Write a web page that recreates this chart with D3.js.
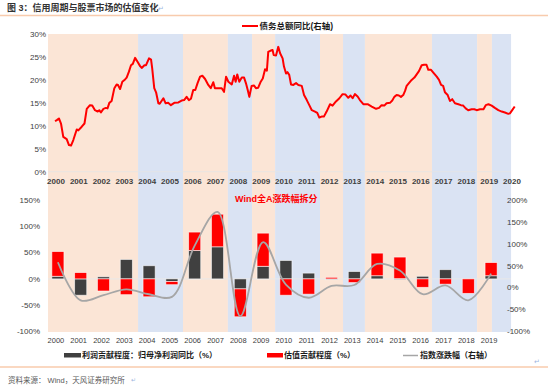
<!DOCTYPE html>
<html><head><meta charset="utf-8">
<script src="https://cdn.jsdelivr.net/npm/d3@7"></script>
<style>
html,body{margin:0;padding:0;background:#fff;}
svg{display:block;font-family:"Liberation Sans","Noto Sans CJK SC",Arial,sans-serif;}
</style></head><body>
<svg id="c" width="550" height="386"></svg>
<script>
// ---------- data ----------
const cycleStarts = [2000.0, 2003.95, 2005.92, 2007.89, 2008.95, 2009.96, 2011.93, 2012.94, 2013.90, 2016.84, 2018.82, 2019.47];
const cycleEnd = 2020.31;
const cycleTypes = ["up","down","up","down","up","down","up","down","up","down","up","down"];

const debtT = [2000.31,2000.40,2000.48,2000.57,2000.67,2000.82,2000.92,2001.01,2001.11,2001.26,2001.33,2001.48,2001.60,2001.70,2001.84,2001.94,
2002.06,2002.18,2002.25,2002.32,2002.43,2002.54,2002.61,2002.69,2002.79,2002.91,2003.01,2003.07,2003.16,2003.26,2003.38,2003.45,2003.55,2003.64,2003.72,2003.82,2003.92,
2004.04,2004.11,2004.23,2004.30,2004.43,2004.52,2004.57,2004.66,2004.74,2004.84,2004.90,2005.06,2005.16,2005.27,2005.39,2005.54,2005.72,2005.86,2005.97,
2006.08,2006.18,2006.27,2006.37,2006.46,2006.56,2006.67,2006.77,2006.89,2007.03,2007.14,2007.25,2007.32,2007.47,2007.62,2007.72,2007.81,2007.91,
2008.06,2008.16,2008.23,2008.30,2008.39,2008.50,2008.60,2008.68,2008.76,2008.83,2008.93,2009.03,2009.12,2009.22,2009.33,2009.42,2009.52,2009.60,2009.66,2009.77,2009.85,2009.90,
2010.00,2010.10,2010.18,2010.29,2010.35,2010.44,2010.50,2010.58,2010.66,2010.76,2010.88,2010.98,2011.13,2011.23,2011.35,2011.46,2011.57,2011.71,2011.81,2011.90,
2012.00,2012.10,2012.22,2012.37,2012.48,2012.63,2012.78,2012.92,2013.05,2013.17,2013.27,2013.36,2013.46,2013.58,2013.68,2013.83,
2014.02,2014.20,2014.39,2014.52,2014.63,2014.75,2014.85,2015.00,2015.10,2015.19,2015.29,2015.39,2015.48,2015.58,2015.66,2015.73,2015.83,2015.95,
2016.07,2016.17,2016.27,2016.39,2016.49,2016.60,2016.68,2016.80,2016.90,2017.05,2017.15,2017.24,2017.33,2017.41,2017.53,2017.63,2017.73,2017.85,
2018.00,2018.11,2018.21,2018.32,2018.43,2018.58,2018.70,2018.80,2018.95,2019.10,2019.20,2019.32,2019.46,2019.60,2019.75,2019.90,2020.04,2020.19,2020.26,2020.36,2020.47];
const debtV = [11.0,11.3,11.6,10.5,7.6,7.1,5.8,5.7,6.9,9.2,9.0,9.8,10.5,13.7,14.5,14.4,
13.4,13.1,13.4,12.9,13.7,13.9,13.8,15.0,15.4,18.2,19.0,18.9,18.0,19.6,20.1,20.5,21.8,23.2,23.5,24.8,24.0,
23.0,22.6,23.2,23.2,24.7,24.4,22.5,18.2,17.3,14.9,14.8,16.0,14.9,15.0,14.5,15.0,15.1,15.5,15.6,
16.3,15.6,15.9,17.8,17.8,19.3,20.7,20.9,20.2,18.9,18.2,19.5,18.2,18.2,18.2,17.4,20.7,19.6,
19.0,20.9,19.6,21.2,19.6,20.5,20.5,19.3,17.8,16.3,18.7,18.8,18.2,18.3,19.6,20.3,22.3,22.0,26.1,26.4,26.5,25.4,
25.3,27.2,25.8,24.7,22.9,21.4,21.7,21.1,19.0,18.9,19.3,18.9,18.7,16.7,15.6,14.5,13.4,13.1,12.8,11.8,
12.0,12.0,13.1,14.7,14.4,15.3,16.0,16.9,16.8,16.1,16.6,16.0,16.9,16.4,15.6,14.7,
14.7,14.2,13.7,13.9,14.5,14.4,14.9,15.0,15.5,16.3,16.7,16.6,16.3,16.7,17.6,18.7,19.3,20.0,
20.5,21.2,21.9,23.2,23.3,23.3,22.2,22.2,21.6,20.7,20.0,18.9,18.7,17.3,16.7,15.4,15.8,14.9,
14.7,14.5,14.4,13.8,13.4,13.6,13.6,13.4,13.6,13.6,14.5,14.7,14.4,13.9,13.4,13.1,12.9,12.6,12.7,13.4,14.2];

const topYTicks = [0,5,10,15,20,25,30];
const topYears = d3.range(2000, 2021);

const years = d3.range(2000, 2020);
const profitContrib = [5,-31,4,37,25,-5,54,61,-19,24,35,11,0,14,6,0.5,5,17.5,0,6];
const valuationContrib = [47,12,-23,-30,-34,-6,35,62,-53,63,-31,-29,3,-7,43,41,-16,-10,-27.5,25];
const indexChange = [58,-29,-17,-4,-15,-21,96,173,-65,104,7,-23,4,6,54,39,-15,5,-29,32];
const leftTicks = [-100,-50,0,50,100,150];
const rightTicks = [-100,-50,0,50,100,150,200];

// ---------- drawing ----------
const svg = d3.select("#c");
const ORANGE = "#fbe5d6", BLUE = "#dae3f3";
const AX = "#404040";

// title
svg.append("text").attr("x",7).attr("y",11).attr("font-size",9).attr("font-weight","bold").attr("fill","#333")
  .text("图 3：信用周期与股票市场的估值变化");
svg.append("text").attr("x",158).attr("y",11).attr("font-size",7).attr("fill","#9db5e0").text("↵");
svg.append("line").attr("x1",0).attr("x2",548).attr("y1",15.5).attr("y2",15.5).attr("stroke","#f8cbad").attr("stroke-width",1.5);

// scales
const x = d3.scaleLinear().domain([2000, 2020.5]).range([48, 515.4]);
const yTop = d3.scaleLinear().domain([0, 30]).range([171.7, 34]);

// bands
const bandTop = 34, bandBot = 332;
const bands = cycleStarts.map((s,i)=>({s, e: i<cycleStarts.length-1 ? cycleStarts[i+1] : cycleEnd, t: cycleTypes[i]}));
svg.append("g").selectAll("rect").data(bands).join("rect")
  .attr("x", d=>x(d.s)).attr("width", d=>x(d.e)-x(d.s))
  .attr("y", bandTop).attr("height", bandBot-bandTop)
  .attr("fill", d=>d.t==="up"?ORANGE:BLUE);

// top axis
const gTopY = svg.append("g");
gTopY.selectAll("text").data(topYTicks).join("text")
  .attr("x",46).attr("y",d=>yTop(d)).attr("dy","0.35em").attr("text-anchor","end")
  .attr("font-size",8).attr("fill",AX).text(d=>d+"%");
svg.append("line").attr("x1",48).attr("x2",511).attr("y1",yTop(0)).attr("y2",yTop(0)).attr("stroke","#e3e3e3").attr("stroke-width",0.8);
svg.append("g").selectAll("text").data(topYears).join("text")
  .attr("x",d=>x(d+0.35)).attr("y",181).attr("dy","0.35em").attr("text-anchor","middle")
  .attr("font-size",8).attr("font-weight","bold").attr("fill",AX).text(d=>d);

// top line
const debt = debtT.map((t,i)=>({t, v: debtV[i]}));
svg.append("path").datum(debt)
  .attr("d", d3.line().x(d=>x(d.t)).y(d=>yTop(d.v)))
  .attr("fill","none").attr("stroke","#ff0000").attr("stroke-width",2).attr("stroke-linejoin","round");

// top legend
svg.append("line").attr("x1",242).attr("x2",258).attr("y1",26).attr("y2",26).attr("stroke","#ff0000").attr("stroke-width",2);
svg.append("text").attr("x",259.5).attr("y",26).attr("dy","0.35em").attr("font-size",8.5).attr("font-weight","bold").attr("fill","#1a1a1a")
  .text("债务总额同比(右轴)");

// bottom chart
const xb = d3.scaleBand().domain(years).range([46.5, 502.5]).paddingInner(0.47).paddingOuter(0.235);
const yL = d3.scaleLinear().domain([-100,150]).range([331.5, 200]);
const yR = d3.scaleLinear().domain([-100,200]).range([331.5, 200]);

svg.append("line").attr("x1",48).attr("x2",511).attr("y1",yL(0)).attr("y2",yL(0)).attr("stroke","#e8e8e8").attr("stroke-width",1);

// stacked bars
const segs = [];
years.forEach((yr,i)=>{
  let pos = 0, neg = 0;
  [[profitContrib[i],"#404040"],[valuationContrib[i],"#ff0000"]].forEach(([v,c])=>{
    if (v >= 0) { segs.push({yr, y0: pos, y1: pos+v, c}); pos += v; }
    else { segs.push({yr, y0: neg+v, y1: neg, c}); neg += v; }
  });
});
svg.append("g").selectAll("rect").data(segs).join("rect")
  .attr("x", d=>xb(d.yr)).attr("width", xb.bandwidth())
  .attr("y", d=>yL(d.y1)).attr("height", d=>Math.max(0.8, yL(d.y0)-yL(d.y1)))
  .attr("fill", d=>d.c).attr("stroke","rgba(255,255,255,0.7)").attr("stroke-width",0.8);

// index line
const idx = years.map((yr,i)=>({yr, v: indexChange[i]}));
svg.append("path").datum(idx)
  .attr("d", d3.line().x(d=>xb(d.yr)+xb.bandwidth()/2).y(d=>yR(d.v)).curve(d3.curveCatmullRom.alpha(0.5)))
  .attr("fill","none").attr("stroke","#a6a6a6").attr("stroke-width",1.8);

// bottom axes
svg.append("g").selectAll("text").data(leftTicks).join("text")
  .attr("x",40).attr("y",d=>yL(d)).attr("dy","0.35em").attr("text-anchor","end")
  .attr("font-size",8).attr("fill",AX).text(d=>d+"%");
svg.append("g").selectAll("text").data(rightTicks).join("text")
  .attr("x",507).attr("y",d=>yR(d)).attr("dy","0.35em").attr("text-anchor","start")
  .attr("font-size",8).attr("fill",AX).text(d=>d+"%");
svg.append("g").selectAll("text").data(years).join("text")
  .attr("x",d=>xb(d)+xb.bandwidth()/2-2).attr("y",340).attr("dy","0.35em").attr("text-anchor","middle")
  .attr("font-size",7.5).attr("fill",AX).text(d=>d);

// bottom title
svg.append("text").attr("x",235).attr("y",199).attr("dy","0.35em").attr("font-size",9).attr("font-weight","bold").attr("fill","#ff0000")
  .text("Wind全A涨跌幅拆分");

// legend
const lg = svg.append("g");
lg.append("rect").attr("x",64).attr("y",353).attr("width",17).attr("height",4.5).attr("fill","#404040");
lg.append("text").attr("x",82).attr("y",355.5).attr("dy","0.35em").attr("font-size",8).attr("font-weight","bold").attr("fill","#1a1a1a").text("利润贡献程度：归母净利润同比（%）");
lg.append("rect").attr("x",267).attr("y",353).attr("width",16).attr("height",4.5).attr("fill","#ff0000");
lg.append("text").attr("x",284).attr("y",355.5).attr("dy","0.35em").attr("font-size",8).attr("font-weight","bold").attr("fill","#1a1a1a").text("估值贡献程度（%）");
lg.append("line").attr("x1",403).attr("x2",418).attr("y1",355.5).attr("y2",355.5).attr("stroke","#a6a6a6").attr("stroke-width",1.5);
lg.append("text").attr("x",420).attr("y",355.5).attr("dy","0.35em").attr("font-size",8).attr("font-weight","bold").attr("fill","#1a1a1a").text("指数涨跌幅（右轴）");
svg.append("text").attr("x",534).attr("y",364).attr("font-size",7).attr("fill","#9db5e0").text("↵");

svg.append("line").attr("x1",0).attr("x2",548).attr("y1",367).attr("y2",367).attr("stroke","#f8cbad").attr("stroke-width",1.5);
svg.append("text").attr("x",8).attr("y",380).attr("dy","0.35em").attr("font-size",7.5).attr("fill","#595959").text("资料来源： Wind，天风证券研究所");
svg.append("text").attr("x",131).attr("y",380).attr("dy","0.35em").attr("font-size",6).attr("fill","#9db5e0").text("↵");
</script>
</body></html>
